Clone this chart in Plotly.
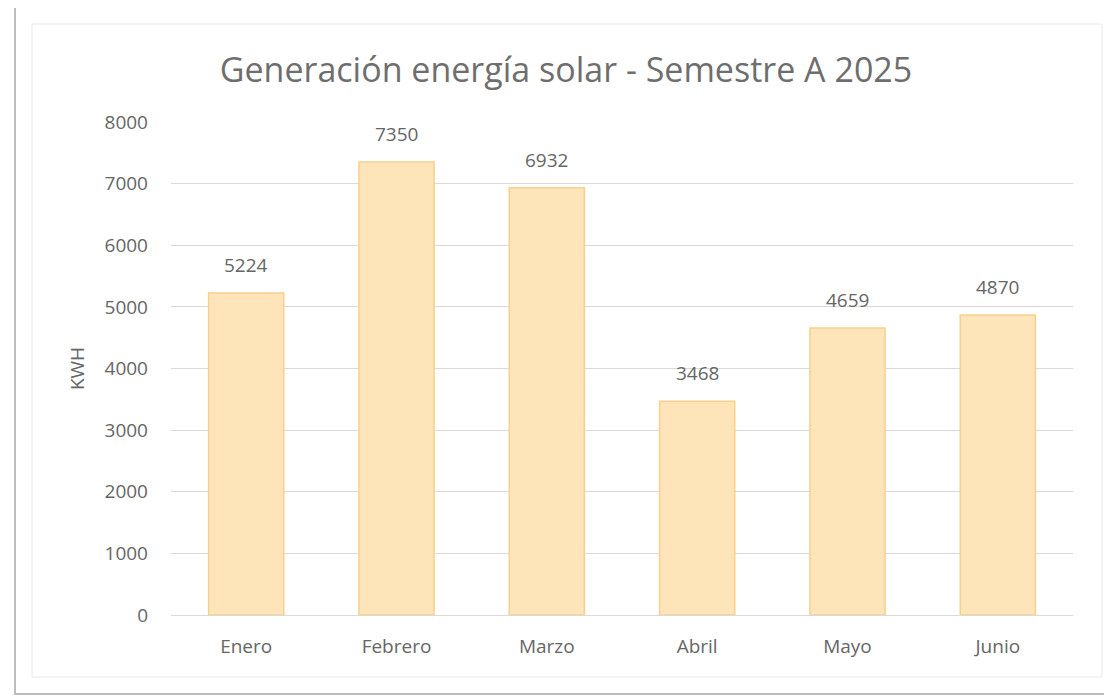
import plotly.graph_objects as go

months = ["Enero", "Febrero", "Marzo", "Abril", "Mayo", "Junio"]
kwh = [5224, 7350, 6932, 3468, 4659, 4870]
y_ticks = [0, 1000, 2000, 3000, 4000, 5000, 6000, 7000, 8000]

# page body has an 8px margin, so figure is sized to fill the remaining view
W, H = 1104, 688
L, R, T, B = 163, 39, 114, 81
FONT = "Open Sans"
GREY = "#666666"

fig = go.Figure()
fig.add_trace(go.Bar(
    x=months, y=kwh,
    width=0.5,
    marker=dict(color="#FDE4B9", line=dict(color="#F8D08E", width=1.5)),
    hoverinfo="x+y",
))

annotations = [
    dict(x=m, y=v, xref="x", yref="y", text=str(v), showarrow=False,
         yanchor="bottom", yshift=13, font=dict(family=FONT, size=19, color=GREY))
    for m, v in zip(months, kwh)
]

def px_x(p):
    return (p - L) / (W - L - R)

def px_y(p):
    return (H - B - p) / (H - T - B)

shapes = [
    dict(type="rect", xref="paper", yref="paper",
         x0=px_x(7), x1=px_x(1097), y0=px_y(686), y1=px_y(-1),
         line=dict(color="#BDBDBD", width=2), fillcolor="rgba(0,0,0,0)", layer="below"),
    dict(type="rect", xref="paper", yref="paper",
         x0=px_x(24), x1=px_x(1094), y0=px_y(669), y1=px_y(16),
         line=dict(color="#E8E8E8", width=1), fillcolor="rgba(0,0,0,0)", layer="below"),
]

fig.update_layout(
    width=W, height=H,
    margin=dict(l=L, r=R, t=T, b=B),
    paper_bgcolor="white", plot_bgcolor="white",
    showlegend=False,
    title=dict(text="Generación energía solar - Semestre A 2025",
               x=558 / W, xanchor="center", y=1 - 62 / H, yanchor="middle",
               font=dict(family=FONT, size=34, color="#6E6E6E")),
    annotations=annotations,
    shapes=shapes,
    bargap=0.5,
)
fig.update_yaxes(
    range=[0, 8000], tickvals=y_ticks, ticktext=[str(t) for t in y_ticks],
    showgrid=True, gridcolor="#D9D9D9", gridwidth=1,
    zeroline=False, showline=False, ticks="",
    tickfont=dict(family=FONT, size=19, color=GREY),
    ticklabelstandoff=22,
    title=dict(text="KWH", font=dict(family=FONT, size=19, color=GREY), standoff=14),
)
fig.update_xaxes(
    showline=True, linecolor="#D9D9D9", linewidth=1, ticks="",
    tickfont=dict(family=FONT, size=19, color=GREY),
    ticklabelstandoff=14,
)

fig.write_html("out.html")
